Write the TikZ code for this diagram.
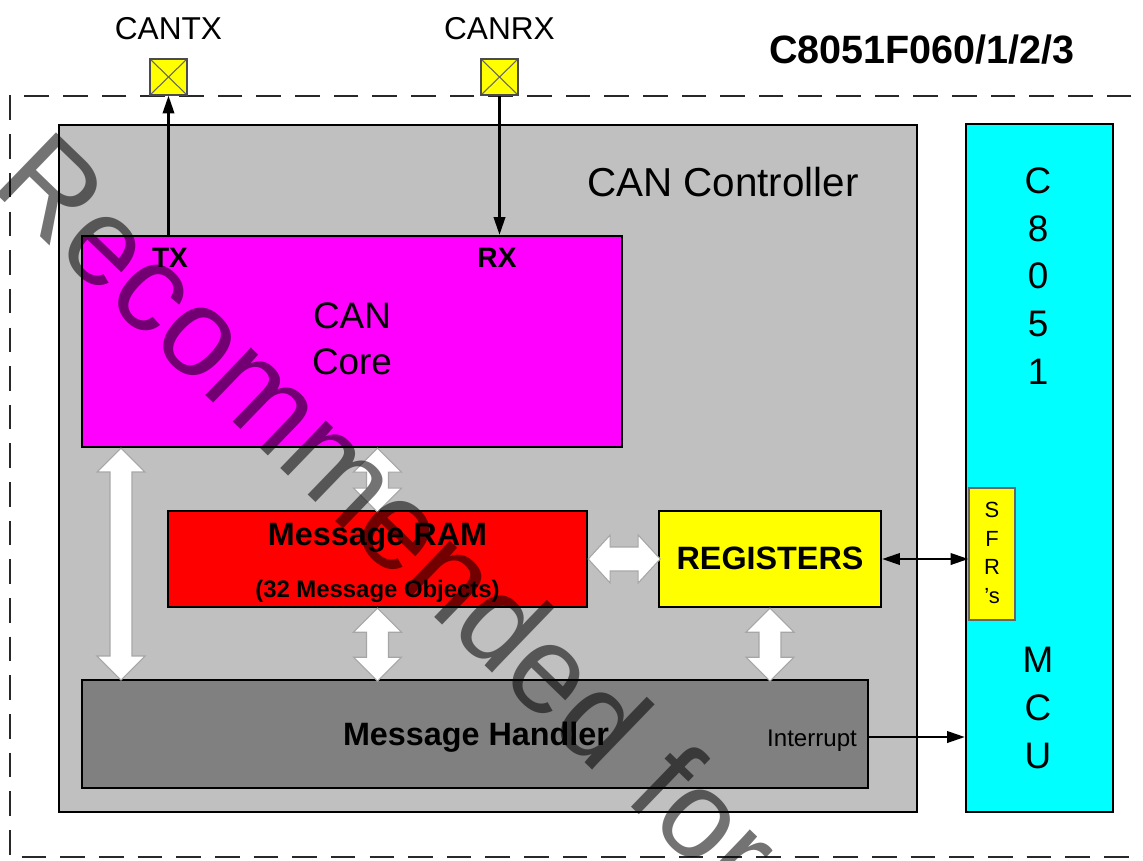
\documentclass[tikz,border=0pt]{standalone}
\usepackage{fontspec}
\setmainfont{Liberation Sans}
\usetikzlibrary{arrows.meta,calc}
\definecolor{ctrlgray}{RGB}{192,192,192}
\definecolor{hdlgray}{RGB}{128,128,128}
\definecolor{padyellow}{RGB}{255,255,0}
\definecolor{coremag}{RGB}{255,0,255}
\definecolor{mcucyan}{RGB}{0,255,255}
\definecolor{ramred}{RGB}{255,0,0}
\definecolor{regyellow}{RGB}{255,255,0}
\definecolor{dashcol}{RGB}{40,40,40}
\newcommand\fsz[1]{\fontsize{#1}{1.2\dimexpr #1pt\relax}\selectfont}
% vertical double block arrow: #1 top tip coordinate, #2 length (px)
\newcommand\vbarrow[2]{%
  \draw[blockarrow,shift={(#1)}] (0,0) -- (24,24) -- (11,24) -- (11,#2-24) -- (24,#2-24)
    -- (0,#2) -- (-24,#2-24) -- (-11,#2-24) -- (-11,24) -- (-24,24) -- cycle;}
% horizontal double block arrow: #1 left tip coordinate, #2 length (px)
\newcommand\hbarrow[2]{%
  \draw[blockarrow,shift={(#1)}] (0,0) -- (22,-24) -- (22,-12) -- (#2-22,-12) -- (#2-22,-24)
    -- (#2,0) -- (#2-22,24) -- (#2-22,12) -- (22,12) -- (22,24) -- cycle;}
\begin{document}
\begin{tikzpicture}[x=0.02cm,y=-0.02cm,
  box/.style={draw=black,line width=1.4pt,rectangle,inner sep=0pt},
  lbl/.style={inner sep=0pt,text=black},
  conn/.style={line width=1.2pt,draw=black},
  tipa/.style={-{Triangle[length=10pt,width=6.5pt]}},
  tipb/.style={{Triangle[length=10pt,width=6.5pt]}-{Triangle[length=10pt,width=6.5pt]}},
  blockarrow/.style={fill=white,draw=black!35,line width=0.6pt,line join=miter},
  pad/.style={draw=black!70,line width=0.8pt,fill=padyellow,inner sep=0pt,
    minimum width=0.74cm,minimum height=0.72cm,
    path picture={\draw[black!60,line width=0.6pt]
      (path picture bounding box.north west) -- (path picture bounding box.south east)
      (path picture bounding box.north east) -- (path picture bounding box.south west);}},
  dashborder/.style={draw=dashcol,line width=1.5pt,dash pattern=on 14pt off 8pt}
]
\useasboundingbox (0,0) rectangle (1143,860);
\fill[white] (0,0) rectangle (1143,860);

% outer dashed device border
\draw[dashborder] (1170,96) -- (10,96) -- (10,857) -- (1170,857);

% pins
\node[pad] (txpad) at (168.5,77) {};
\node[pad] (rxpad) at (499.5,77) {};
\node[lbl,font=\fsz{18}] (cantx) at (168.5,29) {CANTX};
\node[lbl,font=\fsz{18}] (canrx) at (499.5,29) {CANRX};
\node[lbl,font=\bfseries\fsz{22.5}] (chip) at (922,50) {C8051F060/1/2/3};

% main blocks
\node[box,fill=ctrlgray,minimum width=17.16cm,minimum height=13.74cm] (ctrl) at (488,468.5) {};
\node[box,fill=mcucyan,minimum width=2.94cm,minimum height=13.76cm] (mcu) at (1039.5,468) {};
\node[box,fill=coremag,minimum width=10.8cm,minimum height=4.22cm] (core) at (352,341.5) {};
\node[box,fill=ramred,minimum width=8.38cm,minimum height=1.92cm] (ram) at (377.5,559) {};
\node[box,fill=regyellow,minimum width=4.44cm,minimum height=1.92cm] (reg) at (770,559) {};
\node[box,fill=hdlgray,minimum width=15.72cm,minimum height=2.16cm] (hdl) at (475,734) {};
\node[draw=black!60,line width=0.8pt,fill=regyellow,inner sep=0pt,minimum width=0.92cm,minimum height=2.64cm] (sfr) at (992,554) {};

% texts
\node[lbl,font=\fsz{23}] (ctrltxt) at (723,182) {CAN Controller};
\node[lbl,font=\fsz{21},align=center] (coretxt) at (352,339) {CAN\\[1pt]Core};
\node[lbl,font=\bfseries\fsz{16}] (txtxt) at (170,258) {TX};
\node[lbl,font=\bfseries\fsz{16}] (rxtxt) at (497,258) {RX};
\node[lbl,font=\bfseries\fsz{18.4},anchor=base] (ramtxt) at (377.5,545) {Message RAM};
\node[lbl,font=\bfseries\fsz{13.6},anchor=base] (ramsub) at (377.5,597) {(32 Message Objects)};
\node[lbl,font=\bfseries\fsz{18.4}] (regtxt) at (770,558) {REGISTERS};
\node[lbl,font=\bfseries\fsz{18.4},anchor=base] (hdltxt) at (476,745) {Message Handler};
\node[lbl,font=\fsz{13.7},anchor=base] (inttxt) at (812,746) {Interrupt};
\node[lbl,font=\fontsize{21}{27.2}\selectfont,align=center] (mcutop) at (1038,276) {C\\8\\0\\5\\1};
\node[lbl,font=\fontsize{21}{27.4}\selectfont,align=center] (mcubot) at (1038,708) {M\\C\\U};
\node[lbl,font=\fontsize{12.5}{16.4}\selectfont,align=center] (sfrtxt) at (992,553) {S\\F\\R\\'s};

% pin connectors
\draw[conn,tipa] (core.north -| txpad.south) -- (txpad.south);
\draw[conn,tipa] (rxpad.south) -- (rxpad.south |- core.north);

% block arrows
\coordinate (bigtop) at (121,448);
\vbarrow{bigtop}{232}
\vbarrow{core.south -| ram.north}{64}
\vbarrow{ram.south}{73}
\vbarrow{reg.south}{73}
\hbarrow{ram.east}{72}

% thin arrows to MCU
\draw[conn,tipb] (reg.east) -- (reg.east -| sfr.west);
\draw[conn,tipa] ([yshift=-0.06cm]hdl.east) -- ([yshift=-0.06cm]hdl.east -| mcu.west);

% watermark
\node[lbl,font=\fsz{71},text=black,text opacity=0.55,rotate=-44] (wm) at (390,512) {Recommended for};
\end{tikzpicture}
\end{document}
